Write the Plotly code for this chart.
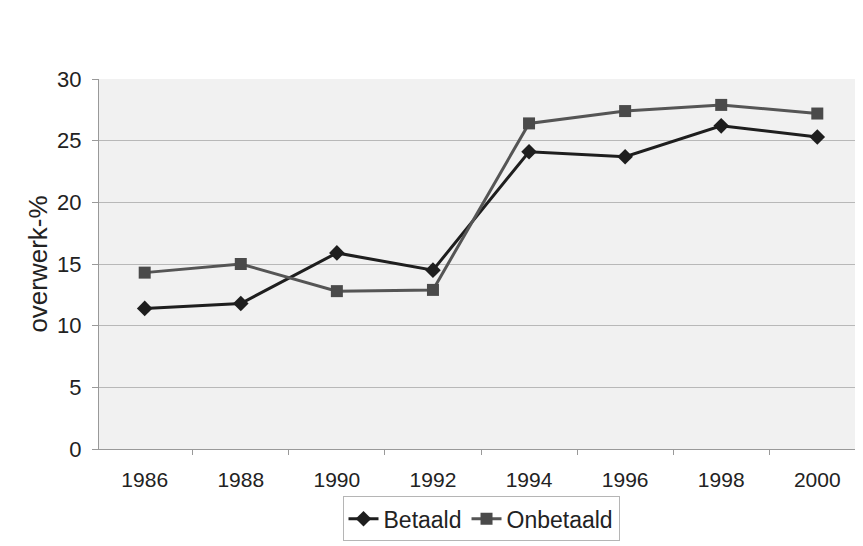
import plotly.graph_objects as go

years = ["1986", "1988", "1990", "1992", "1994", "1996", "1998", "2000"]
betaald = [11.4, 11.8, 15.9, 14.5, 24.1, 23.7, 26.2, 25.3]
onbetaald = [14.3, 15.0, 12.8, 12.9, 26.4, 27.4, 27.9, 27.2]

fig = go.Figure()
fig.add_trace(go.Scatter(x=years, y=betaald, name="Betaald", mode="lines+markers",
                         line=dict(color="#1e1e1e", width=3),
                         marker=dict(symbol="diamond", size=12, color="#1e1e1e")))
fig.add_trace(go.Scatter(x=years, y=onbetaald, name="Onbetaald", mode="lines+markers",
                         line=dict(color="#555555", width=3),
                         marker=dict(symbol="square", size=12, color="#4a4a4a")))

font = "Liberation Sans, Arial, sans-serif"
fig.update_layout(
    width=855, height=538,
    margin=dict(l=91, r=0, t=71, b=97),
    paper_bgcolor="white", plot_bgcolor="#f1f1f1",
    font=dict(family=font, size=21, color="#222"),
    showlegend=True,
    legend=dict(orientation="h", x=0.5, xanchor="center", y=-0.128, yanchor="top",
                bordercolor="#b5b5b5", borderwidth=1, bgcolor="white",
                font=dict(size=23), tracegroupgap=0),
    xaxis=dict(type="category", tickson="boundaries", showgrid=False,
               showline=True, linecolor="#999", ticks="outside", ticklen=5, tickcolor="#999",
               tickfont=dict(size=21), ticklabelstandoff=12),
    yaxis=dict(range=[0, 30], dtick=5, showgrid=True, gridcolor="#b8b8b8", gridwidth=1,
               showline=True, linecolor="#999", ticks="outside", ticklen=6, tickcolor="#999",
               zeroline=False, tickfont=dict(size=22), ticklabelstandoff=6,
               title=dict(text="overwerk-%", font=dict(size=26), standoff=2)),
)
fig.write_html("out.html")
